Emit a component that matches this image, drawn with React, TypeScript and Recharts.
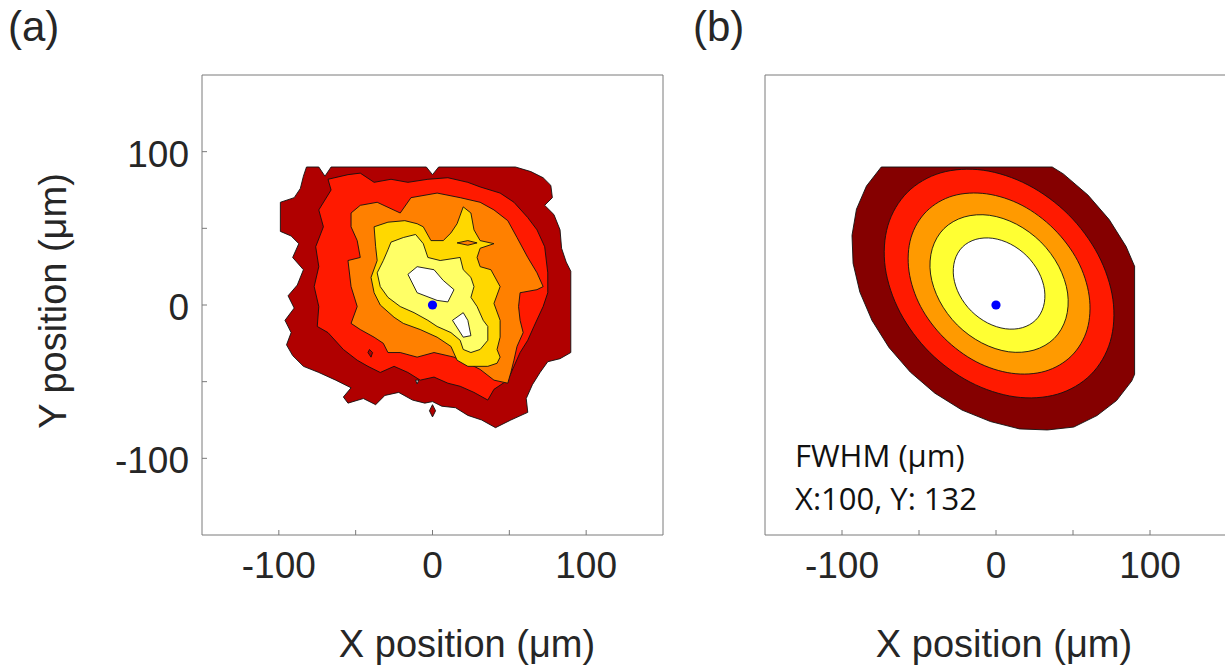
import React from 'react';
import { ScatterChart, Scatter, XAxis, YAxis } from 'recharts';

// ---------- data (µm) ----------
const AXIS_TICKS = [-100, -50, 0, 50, 100];
const AXIS_DOMAIN: [number, number] = [-150, 150];
const CENTER = [{ x: 0, y: 0 }];

// (a) measured beam profile: filled contour levels, outermost first
const measLevel1 = [[-82,90],[-74,90],[-70,84],[-66,90],[-4,90],[0,85],[4,90],[54,90],[64,87],[72,83],[77,78],[78,70],[73,65],[79,59],[83,49],[84,37],[87,28],[90,22],[90,-31],[83,-35],[75,-37],[70,-44],[65,-52],[61,-61],[62,-70],[51,-75],[41,-80],[32,-75],[23,-72],[15,-67],[6,-66],[0,-63],[-5,-64],[-13,-62],[-22,-57],[-31,-59],[-37,-65],[-45,-61],[-55,-64],[-58,-60],[-53,-54],[-63,-49],[-74,-44],[-84,-40],[-91,-33],[-95,-26],[-92,-18],[-96,-10],[-90,-2],[-94,6],[-88,13],[-84,23],[-91,31],[-87,40],[-92,45],[-99,48],[-99,67],[-90,70],[-86,76],[-84,84]];
const measLevel2 = [[-68,82],[-55,85],[-47,86],[-38,80],[-27,82],[-16,80],[-3,82],[10,83],[23,80],[31,77],[44,73],[53,67],[62,57],[68,49],[73,38],[75,21],[75,8],[72,-1],[66,-14],[62,-23],[57,-31],[53,-40],[49,-49],[40,-55],[36,-62],[27,-57],[18,-53],[10,-51],[1,-47],[-8,-49],[-16,-44],[-25,-40],[-34,-44],[-42,-40],[-49,-36],[-58,-29],[-68,-18],[-75,-14],[-74,-1],[-77,12],[-74,25],[-76,38],[-71,51],[-74,62],[-66,75]];
const measLevel3 = [[-53,60],[-47,65],[-36,67],[-21,60],[-14,70],[3,73],[18,70],[31,67],[40,62],[49,55],[55,44],[62,31],[68,21],[72,12],[68,10],[57,8],[56,-1],[57,-10],[59,-18],[55,-27],[53,-36],[51,-44],[49,-51],[40,-49],[31,-42],[23,-38],[14,-34],[1,-31],[-10,-34],[-21,-31],[-29,-31],[-32,-25],[-38,-21],[-47,-16],[-53,-12],[-49,-1],[-53,12],[-55,29],[-47,31],[-49,42],[-53,51]];
const measLevel4 = [[-38,51],[-29,54],[-18,55],[-10,53],[-6,51],[-1,42],[7,42],[12,47],[16,53],[20,64],[25,60],[27,49],[31,42],[40,40],[31,37],[29,31],[31,25],[38,23],[44,12],[40,1],[44,-10],[44,-21],[42,-29],[44,-34],[42,-38],[36,-40],[23,-40],[16,-36],[12,-27],[3,-21],[-8,-16],[-19,-12],[-25,-8],[-34,0],[-38,8],[-40,18],[-36,29],[-37,38]];
const measLevel3Island = [[16,40.5],[23,42],[29,40.5],[23,39]];
const measLevel5 = [[-27,41],[-19,44],[-11,46],[-6,40],[-3,31],[5,29],[18,31],[20,23],[25,18],[27,12],[25,5],[29,-1],[33,-10],[36,-14],[36,-23],[31,-29],[25,-31],[20,-29],[18,-23],[12,-18],[3,-14],[-3,-10],[-12,-5],[-21,-1],[-29,5],[-34,12],[-36,21],[-32,29],[-29,36]];
const measLevel6a = [[-16,20],[-10,25],[1,23],[7,16],[14,10],[10,2],[3,3],[-10,8]];
const measLevel6b = [[13,-10],[20,-5],[23,-10],[25,-20],[20,-21]];
const measIsland1 = [[-41,-29],[-39,-31],[-40,-34],[-42,-31]];
const measIsland2 = [[-11,-49],[-9,-49],[-10,-51.5]];
const measIsland3 = [[0,-65],[2,-69],[0,-73],[-2,-69]];

// (b) Gaussian fit: filled contour levels, outermost first
const fitLevel1 = [[78.3,-62.3],[88.1,-49.6],[90,-45.2],[90,25.2],[84.5,38.1],[73.5,55.7],[59.7,71.7],[43.7,85.5],[36.5,90],[-74.5,90],[-84.1,77.6],[-90.6,62.5],[-93.5,45.4],[-92.8,27.2],[-88.4,8.4],[-80.5,-10.1],[-69.5,-27.7],[-55.7,-43.7],[-39.7,-57.5],[-22.1,-68.5],[-3.6,-76.0],[15.2,-80.8],[33.4,-81.5],[50.5,-79.6],[65.6,-72.1]];
const fitLevel2 = [[61.5,-45.5],[74.2,-23.8],[75.9,3.7],[66.3,32.8],[47.0,59.0],[20.8,78.3],[-8.3,87.9],[-35.8,86.2],[-57.5,73.5],[-70.2,51.8],[-71.9,24.3],[-62.3,-4.8],[-43.0,-31.0],[-16.8,-50.3],[12.3,-59.9],[39.8,-58.2]];
const fitLevel3 = [[49.1,-33.1],[59.2,-15.9],[60.5,5.9],[53.0,28.9],[37.6,49.6],[16.9,65.0],[-6.1,72.5],[-27.9,71.2],[-45.1,61.1],[-55.2,43.9],[-56.5,22.1],[-49.0,-0.9],[-33.6,-21.6],[-12.9,-37.0],[10.1,-44.5],[31.9,-43.2]];
const fitLevel4 = [[37.8,-21.8],[45.4,-8.7],[46.5,7.8],[40.7,25.3],[29.1,41.1],[13.3,52.7],[-4.2,58.5],[-20.7,57.4],[-33.8,49.8],[-41.4,36.7],[-42.5,20.2],[-36.7,2.7],[-25.1,-13.1],[-9.3,-24.7],[8.2,-30.5],[24.7,-29.4]];
const fitLevel5 = [[25.8,-9.8],[30.8,-1.1],[31.5,9.9],[27.7,21.5],[20.0,32.0],[9.5,39.7],[-2.1,43.5],[-13.1,42.8],[-21.8,37.8],[-26.8,29.1],[-27.5,18.1],[-23.7,6.5],[-16.0,-4.0],[-5.5,-11.7],[6.1,-15.5],[17.1,-14.8]];

const FWHM_TEXT = ['FWHM (μm)', 'X:100, Y: 132'];
const X_TITLE = 'X position (μm)';
const Y_TITLE = 'Y position (μm)';

// ---------- styles ----------
const MEAS_COLORS = ['#b00000', '#ff1a00', '#ff8000', '#ffd800', '#ffff66', '#ffffff'];
const FIT_COLORS = ['#850000', '#ff1a00', '#ff9a00', '#ffff33', '#ffffff'];
const AX = '#7a7a7a';
const TXT = '#262626';
const FONT = '"Liberation Sans", Arial, Helvetica, sans-serif';

type Pt = { x: number; y: number };
const toPts = (a: number[][]): Pt[] => a.map(([x, y]) => ({ x, y }));

function polyPath(p: Pt[]): string {
  return p.map((q, i) => `${i ? 'L' : 'M'}${q.x},${q.y}`).join('') + 'Z';
}
function smoothPath(p: Pt[]): string {
  const n = p.length;
  let d = `M${p[0].x},${p[0].y}`;
  for (let i = 0; i < n; i++) {
    const p0 = p[(i - 1 + n) % n], p1 = p[i], p2 = p[(i + 1) % n], p3 = p[(i + 2) % n];
    const c1x = p1.x + (p2.x - p0.x) / 6, c1y = p1.y + (p2.y - p0.y) / 6;
    const c2x = p2.x - (p3.x - p1.x) / 6, c2y = p2.y - (p3.y - p1.y) / 6;
    d += `C${c1x},${c1y} ${c2x},${c2y} ${p2.x},${p2.y}`;
  }
  return d + 'Z';
}

const makeLine = (fill: string, smooth: boolean) => (props: any) => {
  const pts: Pt[] = (props && props.points) || [];
  if (!pts.length) return <g />;
  return (
    <path
      d={smooth ? smoothPath(pts) : polyPath(pts)}
      fill={fill}
      stroke="#111"
      strokeWidth={0.9}
      strokeLinejoin="round"
    />
  );
};
const noShape = () => <g />;
const dotShape = (p: any) => <circle cx={p.cx} cy={p.cy} r={4.6} fill="#0000ff" />;

const fmt = (v: number) => (v % 100 === 0 ? String(v) : '');
const blank = () => '';

function Panel(props: {
  left: number;
  width: number;
  axisLeft: number;
  marginRight: number;
  showYLabels: boolean;
  layers: { data: number[][]; color: string; smooth: boolean }[];
}) {
  const { left, width, axisLeft, marginRight, showYLabels, layers } = props;
  return (
    <div style={{ position: 'absolute', left, top: 0, width, height: 670 }}>
      <ScatterChart width={width} height={670} margin={{ top: 74, right: marginRight, bottom: 0, left: 0 }}>
        <XAxis
          xAxisId="b"
          dataKey="x"
          type="number"
          domain={AXIS_DOMAIN}
          allowDataOverflow
          ticks={AXIS_TICKS}
          interval={0}
          orientation="bottom"
          height={135}
          tickSize={-5}
          tickMargin={22}
          tickFormatter={fmt}
          tick={{ fontSize: 37, fill: TXT, fontFamily: FONT }}
          axisLine={{ stroke: AX, strokeWidth: 1 }}
          tickLine={{ stroke: AX, strokeWidth: 1 }}
        />
        <XAxis
          xAxisId="t"
          dataKey="x"
          type="number"
          domain={AXIS_DOMAIN}
          allowDataOverflow
          ticks={AXIS_TICKS}
          interval={0}
          orientation="top"
          height={1}
          tickSize={-5}
          tickFormatter={blank}
          tick={false}
          axisLine={{ stroke: AX, strokeWidth: 1 }}
          tickLine={{ stroke: AX, strokeWidth: 1 }}
        />
        <YAxis
          yAxisId="l"
          dataKey="y"
          type="number"
          domain={AXIS_DOMAIN}
          allowDataOverflow
          ticks={AXIS_TICKS}
          interval={0}
          orientation="left"
          width={axisLeft}
          tickSize={-5}
          tickMargin={18}
          tickFormatter={showYLabels ? fmt : blank}
          tick={showYLabels ? { fontSize: 37, fill: TXT, fontFamily: FONT, dy: 2 } : false}
          axisLine={{ stroke: AX, strokeWidth: 1 }}
          tickLine={{ stroke: AX, strokeWidth: 1 }}
        />
        <YAxis
          yAxisId="r"
          dataKey="y"
          type="number"
          domain={AXIS_DOMAIN}
          allowDataOverflow
          ticks={AXIS_TICKS}
          interval={0}
          orientation="right"
          width={1}
          tickSize={-5}
          tickFormatter={blank}
          tick={false}
          axisLine={{ stroke: AX, strokeWidth: 1 }}
          tickLine={{ stroke: AX, strokeWidth: 1 }}
        />
        {layers.map((l, i) => (
          <Scatter
            key={i}
            xAxisId="b"
            yAxisId="l"
            data={toPts(l.data)}
            line={makeLine(l.color, l.smooth)}
            lineType="joint"
            shape={noShape}
            isAnimationActive={false}
          />
        ))}
        <Scatter xAxisId="b" yAxisId="l" data={CENTER} shape={dotShape} isAnimationActive={false} />
      </ScatterChart>
    </div>
  );
}

export default function App() {
  const measLayers = [
    { data: measLevel1, color: MEAS_COLORS[0], smooth: false },
    { data: measLevel2, color: MEAS_COLORS[1], smooth: false },
    { data: measLevel3, color: MEAS_COLORS[2], smooth: false },
    { data: measLevel4, color: MEAS_COLORS[3], smooth: false },
    { data: measLevel3Island, color: MEAS_COLORS[2], smooth: false },
    { data: measLevel5, color: MEAS_COLORS[4], smooth: false },
    { data: measLevel6a, color: MEAS_COLORS[5], smooth: false },
    { data: measLevel6b, color: MEAS_COLORS[5], smooth: false },
    { data: measIsland1, color: MEAS_COLORS[0], smooth: false },
    { data: measIsland2, color: MEAS_COLORS[5], smooth: false },
    { data: measIsland3, color: MEAS_COLORS[0], smooth: false },
  ];
  const fitLayers = [
    { data: fitLevel1, color: FIT_COLORS[0], smooth: false },
    { data: fitLevel2, color: FIT_COLORS[1], smooth: true },
    { data: fitLevel3, color: FIT_COLORS[2], smooth: true },
    { data: fitLevel4, color: FIT_COLORS[3], smooth: true },
    { data: fitLevel5, color: FIT_COLORS[4], smooth: true },
  ];
  return (
    <div
      style={{
        position: 'absolute',
        left: 0,
        top: 0,
        width: 1225,
        height: 670,
        overflow: 'hidden',
        background: '#fff',
      }}
    >
      <Panel left={0} width={700} axisLeft={202} marginRight={36} showYLabels layers={measLayers} />
      <Panel left={700} width={540} axisLeft={65} marginRight={12} showYLabels={false} layers={fitLayers} />
      <svg
        width={1225}
        height={670}
        style={{ position: 'absolute', left: 0, top: 0, pointerEvents: 'none' }}
      >
        <g fontFamily={FONT} fill={TXT}>
          <text x={8} y={41} fontSize={42}>(a)</text>
          <text x={693} y={41} fontSize={42}>(b)</text>
          <text x={467} y={657} fontSize={38} textAnchor="middle">{X_TITLE}</text>
          <text x={1004} y={657} fontSize={38} textAnchor="middle">{X_TITLE}</text>
          <text x={66} y={301} fontSize={38} textAnchor="middle" transform="rotate(-90 66 301)">{Y_TITLE}</text>
        </g>
        <g fontFamily='"Open Sans", "Noto Sans", sans-serif' fill="#111" fontSize={31}>
          <text x={795} y={467}>{FWHM_TEXT[0]}</text>
          <text x={795} y={510}>{FWHM_TEXT[1]}</text>
        </g>
      </svg>
    </div>
  );
}
